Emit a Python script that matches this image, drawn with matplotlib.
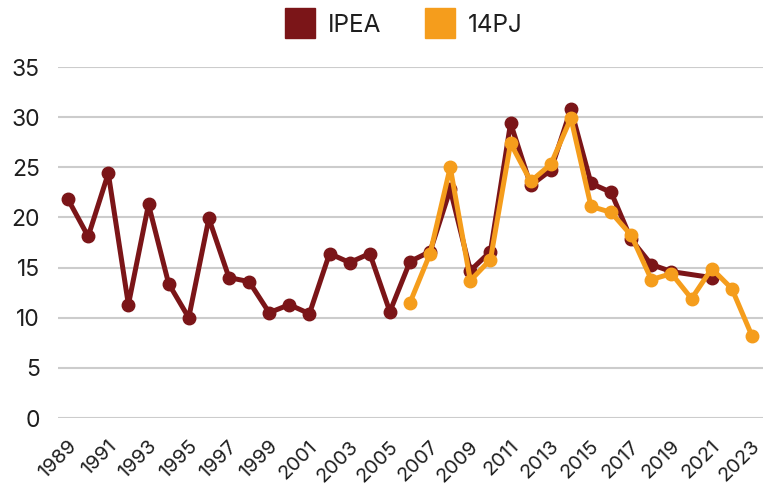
import matplotlib
matplotlib.use("Agg")
import matplotlib.pyplot as plt
from matplotlib.lines import Line2D
from matplotlib.transforms import ScaledTranslation

plt.rcParams['font.family'] = ['Inter', 'DejaVu Sans']

ipea_years = list(range(1989, 2020)) + [2021]
ipea_values = [21.8, 18.1, 24.4, 11.3, 21.3, 13.4, 10.0, 19.9, 14.0, 13.6,
               10.5, 11.3, 10.4, 16.4, 15.5, 16.4, 10.6, 15.6, 16.6, 22.8,
               14.7, 16.6, 29.4, 23.2, 24.7, 30.8, 23.4, 22.5, 17.8, 15.3,
               14.6, 14.0]

pj_years = list(range(2006, 2024))
pj_values = [11.5, 16.4, 25.0, 13.7, 15.8, 27.4, 23.6, 25.3, 29.9, 21.1,
             20.5, 18.2, 13.8, 14.4, 11.9, 14.9, 12.9, 8.2]

tick_years = list(range(1989, 2024, 2))
y_ticks = [0, 5, 10, 15, 20, 25, 30, 35]

c_ipea = '#7B1518'
c_pj = '#F59D1C'
txt = '#1e1e1e'

fig = plt.figure(figsize=(7.63, 4.86), dpi=100)
ax = fig.add_axes([58/763, 68/486, 1 - 58/763, (418-67)/486])

ax.plot(ipea_years, ipea_values, color=c_ipea, lw=3.6, marker='o', ms=9,
        clip_on=False, zorder=3)
ax.plot(pj_years, pj_values, color=c_pj, lw=3.6, marker='o', ms=9,
        clip_on=False, zorder=4)

ax.set_xlim(1988.5, 2023.55)
ax.set_ylim(0, 35)
ax.set_yticks(y_ticks)
ax.set_xticks(tick_years)
ax.set_xticklabels([str(y) for y in tick_years], rotation=45, ha='right',
                   va='baseline', rotation_mode='anchor', fontsize=14.5, color=txt)
ax.tick_params(axis='y', labelsize=16.5, colors=txt, length=0, pad=13)
ax.tick_params(axis='x', length=0, pad=21)
shift = ScaledTranslation(9/100, 0, fig.dpi_scale_trans)
for lab in ax.get_xticklabels():
    lab.set_transform(lab.get_transform() + shift)
ax.grid(axis='y', color='#cccccc', lw=1.5)
ax.set_axisbelow(True)
for s in ax.spines.values():
    s.set_visible(False)

handles = [Line2D([], [], color=c_ipea, marker='s', ms=21, lw=0),
           Line2D([], [], color=c_pj, marker='s', ms=21, lw=0)]
fig.legend(handles, ['IPEA', '14PJ'], loc='center', bbox_to_anchor=(404/763, 1 - 25/486),
           ncol=2, frameon=False, fontsize=17.5, handletextpad=0.55, columnspacing=1.8,
           handlelength=1.2, labelcolor=txt)

fig.savefig('out.png', dpi=100)
